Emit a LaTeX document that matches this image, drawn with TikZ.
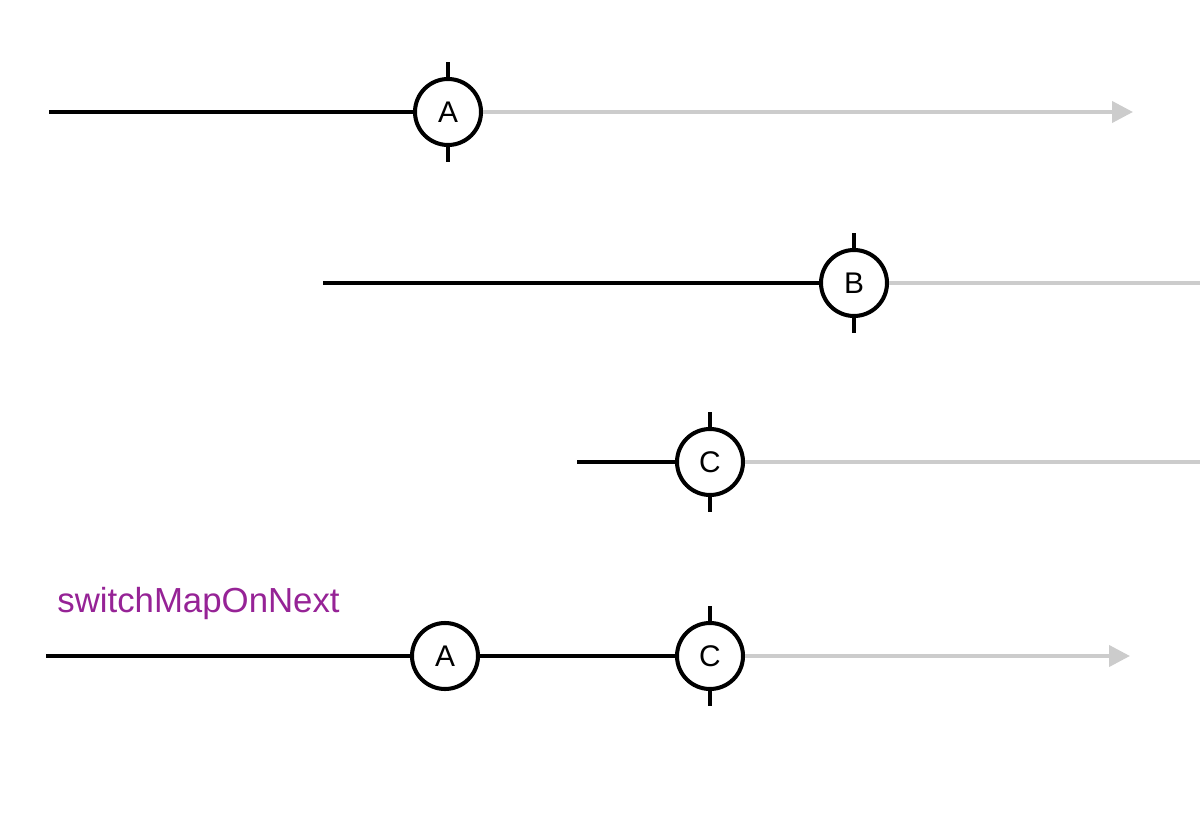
\documentclass[tikz,border=0pt]{standalone}
\usepackage{fontspec}
\setmainfont{Liberation Sans}
\usepackage{xcolor}
\usetikzlibrary{arrows.meta,positioning}
\definecolor{pastgray}{RGB}{204,204,204}
\definecolor{oppurple}{RGB}{150,35,150}

\begin{document}
\begin{tikzpicture}[event/.style={circle, draw, line width=2.3pt, fill=white, minimum size=1.32cm, inner sep=0pt, font=\fontsize{17}{17}\selectfont},
    live/.style={line width=2.3pt, black},
    future/.style={line width=2.3pt, pastgray},
    tick/.style={line width=2.3pt}]
    \useasboundingbox (0,0) rectangle (24,-16.64);
    % first stream
    \coordinate (s1) at (0.98,-2.24);
    \coordinate (e1) at (22.66,-2.24);
    \node (a1) at (8.96,-2.24) [event] {A};
    \draw[live] (s1) -- (a1);
    \draw[future, -{Triangle[length=0.42cm,width=0.42cm]}] (a1) -- (e1);
    \draw[tick] (a1.north) -- ++(0,0.3);
    \draw[tick] (a1.south) -- ++(0,-0.3);
    % second stream
    \coordinate (s2) at (6.46,-5.66);
    \coordinate (e2) at (24,-5.66);
    \node (b2) at (17.08,-5.66) [event] {B};
    \draw[live] (s2) -- (b2);
    \draw[future] (b2) -- (e2);
    \draw[tick] (b2.north) -- ++(0,0.3);
    \draw[tick] (b2.south) -- ++(0,-0.3);
    % third stream
    \coordinate (s3) at (11.54,-9.24);
    \coordinate (e3) at (24,-9.24);
    \node (c3) at (14.2,-9.24) [event] {C};
    \draw[live] (s3) -- (c3);
    \draw[future] (c3) -- (e3);
    \draw[tick] (c3.north) -- ++(0,0.3);
    \draw[tick] (c3.south) -- ++(0,-0.3);
    % result
    \node (op) at (1.14,-12.24) [anchor=base west, inner sep=0pt, text=oppurple, font=\fontsize{19.8}{20}\selectfont] {switchMapOnNext};
    \coordinate (s4) at (0.92,-13.12);
    \coordinate (e4) at (22.6,-13.12);
    \node (a4) at (8.9,-13.12) [event] {A};
    \node (c4) at (14.2,-13.12) [event] {C};
    \draw[live] (s4) -- (a4);
    \draw[live] (a4) -- (c4);
    \draw[future, -{Triangle[length=0.42cm,width=0.42cm]}] (c4) -- (e4);
    \draw[tick] (c4.north) -- ++(0,0.3);
    \draw[tick] (c4.south) -- ++(0,-0.3);
\end{tikzpicture}
\end{document}
